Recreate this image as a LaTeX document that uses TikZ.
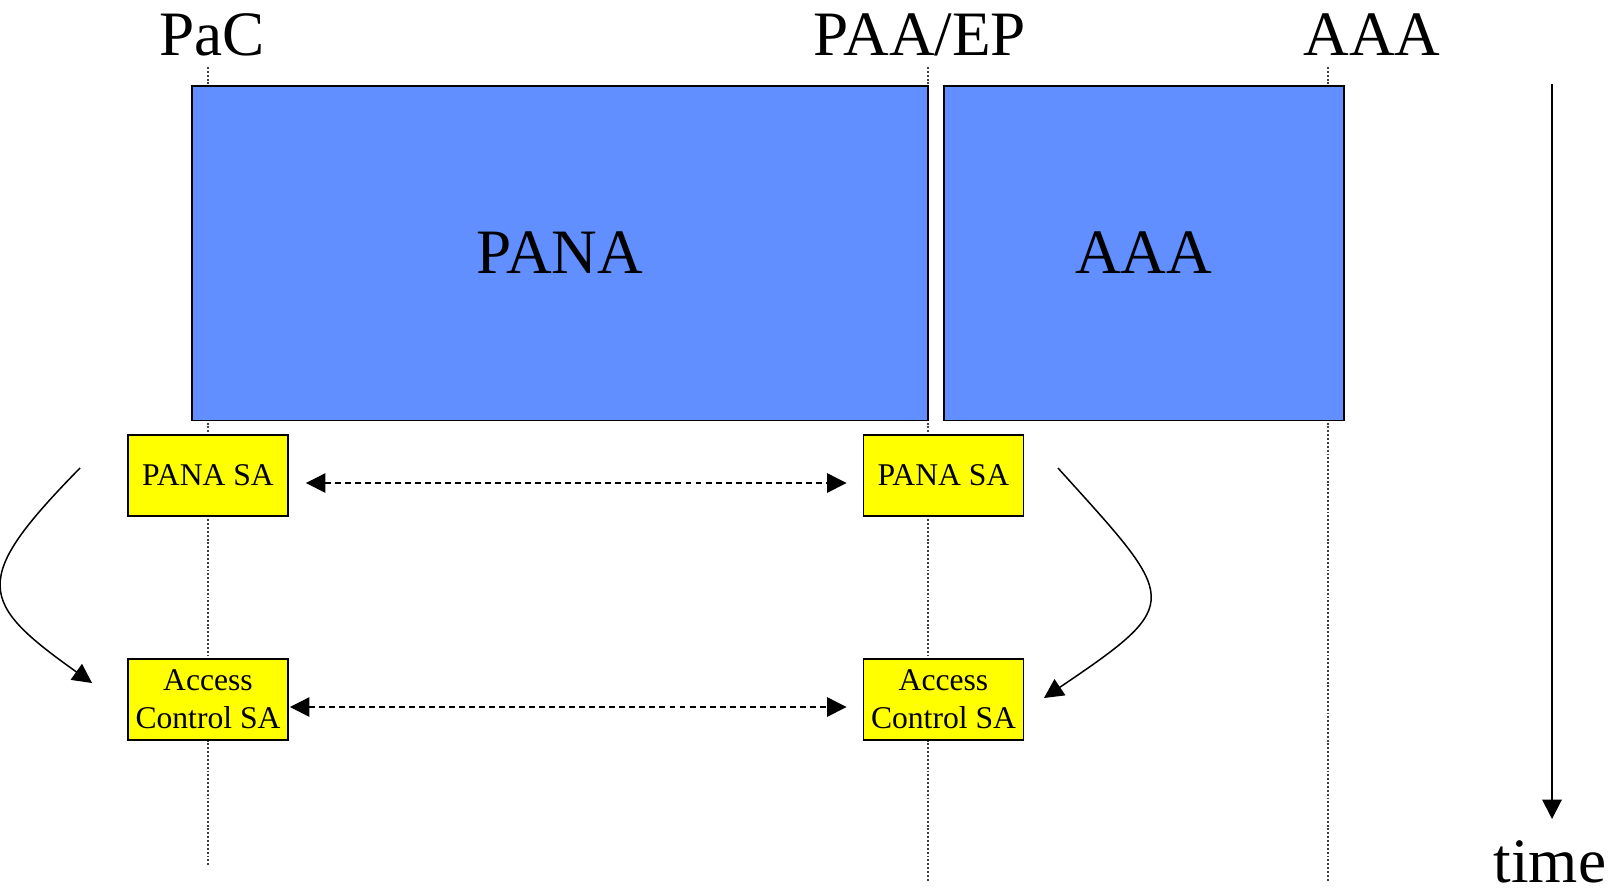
\documentclass[tikz,border=0pt]{standalone}
\usepackage{fontspec}
\setmainfont{Liberation Serif}
\usetikzlibrary{arrows.meta}
\definecolor{panablue}{RGB}{97,143,255}
\definecolor{sayellow}{RGB}{255,255,0}

\begin{document}
\begin{tikzpicture}[x=0.02cm, y=-0.02cm,
    phase/.style={draw=black, line width=1.1pt, fill=panablue, inner sep=0pt,
        minimum height=6.7cm, font=\fontsize{36}{43}\selectfont},
    sabox/.style={draw=black, line width=1.1pt, fill=sayellow, inner sep=0pt,
        minimum width=3.2cm, minimum height=1.62cm, align=center,
        font=\fontsize{18}{21.5}\selectfont},
    entity/.style={anchor=base, font=\fontsize{36}{43}\selectfont},
    lifeline/.style={black!75, line width=0.6pt, dash pattern=on 1.1pt off 1.1pt},
    sync/.style={{Triangle[length=11pt,width=11pt]}-{Triangle[length=11pt,width=11pt]},
        line width=0.7pt, dash pattern=on 3.4pt off 2.3pt},
    derive/.style={-{Triangle[length=11pt,width=11pt]}, line width=0.85pt},
]
    \useasboundingbox (0,0) rectangle (1622,894);

    % Entities
    \node[entity] (pac) at (212,55) {PaC};
    \node[entity] (paa) at (920,55) {PAA/EP};
    \node[entity] (aaa) at (1372,55) {AAA};

    % Lifelines
    \foreach \x/\yend in {208/865, 928/881, 1328/881} {
        \draw[lifeline] (\x,67) -- (\x,\yend);
    }

    % Exchanges
    \node[phase, minimum width=14.72cm] (pana) at (560,253) {PANA};
    \node[phase, minimum width=8.01cm] (aaaphase) at (1143.75,253) {AAA};

    % Security associations
    \node[sabox] (pacsa) at (208,475.5) {PANA SA};
    \node[sabox] (paasa) at (943.5,475.5) {PANA SA};
    \node[sabox] (pacac) at (208,699.5) {Access\\Control SA};
    \node[sabox] (paaac) at (943.5,699.5) {Access\\Control SA};

    % Shared SAs
    \draw[sync] ([shift={(17,7.5)}]pacsa.east) -- ([shift={(-16,7.5)}]paasa.west);
    \draw[sync] ([shift={(1,7.5)}]pacac.east) -- ([shift={(-16,7.5)}]paaac.west);

    % Access control SA derived from PANA SA
    \draw[derive] ([shift={(-47,-7.5)}]pacsa.west)
        .. controls (-30,580) and (-22,602) .. ([shift={(-35,-16.5)}]pacac.west);
    \draw[derive] ([shift={(33.5,-7.5)}]paasa.east)
        .. controls (1178,601) and (1186,602) .. ([shift={(19.5,-1.5)}]paaac.east);

    % Time axis
    \coordinate (timetop) at (1552,84);
    \coordinate (timeend) at (1552,819);
    \node[entity, inner sep=1pt] (time) at (1550,882) {time};
    \draw[derive, line width=1pt] (timetop) -- (timeend);
\end{tikzpicture}
\end{document}
